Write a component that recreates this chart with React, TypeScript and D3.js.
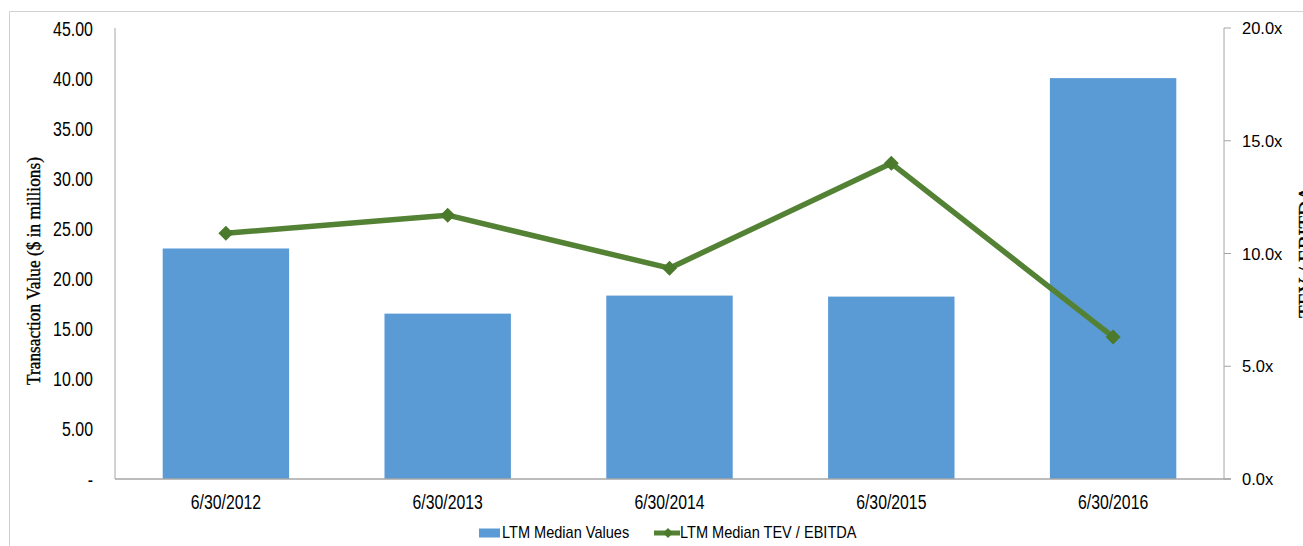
import React from "react";
import * as d3 from "d3";

const categories = ["6/30/2012", "6/30/2013", "6/30/2014", "6/30/2015", "6/30/2016"];
const medianValues = [23.0, 16.5, 18.3, 18.2, 40.0];
const tevEbitda = [10.9, 11.7, 9.35, 14.0, 6.3];
const leftTicks = [0, 5, 10, 15, 20, 25, 30, 35, 40, 45];
const rightTicks = [0, 5, 10, 15, 20];

const W = 1303;
const H = 546;
const left = 115;
const right = 1224;
const top = 28;
const bottom = 479;

const BAR = "#5B9BD5";
const LINE = "#548235";
const MARK = "#4C7A2C";
const AXIS = "#A6A6A6";
const SANS = "'Liberation Sans', Arial, sans-serif";
const SERIF = "'Liberation Serif', 'Times New Roman', serif";

export default function App() {
  const x = d3.scaleBand<string>().domain(categories).range([left, right]).paddingInner(0.43).paddingOuter(0.215);
  const yL = d3.scaleLinear().domain([0, 45]).range([bottom, top]);
  const yR = d3.scaleLinear().domain([0, 20]).range([bottom, top]);
  const cx = (c: string) => (x(c) as number) + x.bandwidth() / 2;

  const pts: [number, number][] = categories.map((c, i) => [cx(c), yR(tevEbitda[i])]);
  const line = d3.line()(pts) as string;
  const diamond = (px: number, py: number, r: number) =>
    `M${px},${py - r}L${px + r},${py}L${px},${py + r}L${px - r},${py}Z`;

  return (
    <svg width={W} height={H} style={{ position: "absolute", left: 0, top: 0, background: "#fff" }}>
      {/* outer frame */}
      <path d={`M9.5,${H}V11.5H${W}`} fill="none" stroke="#D0D0D0" strokeWidth={1} />

      {/* bars */}
      {categories.map((c, i) => (
        <rect key={c} x={x(c)} y={yL(medianValues[i])} width={x.bandwidth()} height={bottom - yL(medianValues[i])} fill={BAR} />
      ))}

      {/* axes */}
      <line x1={left} x2={left} y1={top} y2={bottom} stroke={AXIS} strokeWidth={1} />
      <line x1={left} x2={right + 7} y1={bottom} y2={bottom} stroke={AXIS} strokeWidth={1.5} />
      <line x1={right} x2={right} y1={top} y2={bottom} stroke={AXIS} strokeWidth={1} />
      {rightTicks.map((t) => (
        <line key={t} x1={right} x2={right + 7} y1={yR(t)} y2={yR(t)} stroke={AXIS} strokeWidth={1} />
      ))}

      {/* line series */}
      <path d={line} fill="none" stroke={LINE} strokeWidth={5.5} strokeLinejoin="round" />
      {pts.map(([px, py], i) => (
        <path key={i} d={diamond(px, py, 7.5)} fill={MARK} />
      ))}

      {/* left tick labels */}
      {leftTicks.map((t) => (
        <text
          key={t}
          transform={`translate(93,${yL(t) + 7.5}) scale(0.76,1)`}
          textAnchor="end"
          fontFamily={SANS}
          fontSize={21}
          fill="#000"
        >
          {t === 0 ? "-" : t.toFixed(2)}
        </text>
      ))}

      {/* right tick labels */}
      {rightTicks.map((t) => (
        <text key={t} x={1242} y={yR(t) + 6} fontFamily={SANS} fontSize={16.5} fill="#000">
          {t.toFixed(1) + "x"}
        </text>
      ))}

      {/* x labels */}
      {categories.map((c) => (
        <text
          key={c}
          transform={`translate(${cx(c)},509) scale(0.81,1)`}
          textAnchor="middle"
          fontFamily={SANS}
          fontSize={19.5}
          fill="#000"
        >
          {c}
        </text>
      ))}

      {/* axis titles */}
      <text
        transform={`translate(40,271) rotate(-90)`}
        textAnchor="middle"
        fontFamily={SERIF}
        fontSize={19}
        stroke="#000"
        strokeWidth={0.35}
        textLength={228}
        lengthAdjust="spacingAndGlyphs"
        fill="#000"
      >
        Transaction Value ($ in millions)
      </text>
      <text
        transform={`translate(1312,252) rotate(-90)`}
        textAnchor="middle"
        fontFamily={SERIF}
        fontSize={19}
        stroke="#000"
        strokeWidth={0.35}
        textLength={132}
        lengthAdjust="spacingAndGlyphs"
        fill="#000"
      >
        TEV / EBITDA
      </text>

      {/* legend */}
      <rect x={479} y={528.5} width={21} height={9} fill={BAR} />
      <text transform="translate(502,538) scale(0.91,1)" fontFamily={SANS} fontSize={16} fill="#000">
        LTM Median Values
      </text>
      <line x1={654} x2={680} y1={533} y2={533} stroke={LINE} strokeWidth={5} />
      <path d={diamond(668, 533, 5)} fill={MARK} />
      <text transform="translate(680,538) scale(0.91,1)" fontFamily={SANS} fontSize={16} fill="#000">
        LTM Median TEV / EBITDA
      </text>
    </svg>
  );
}
